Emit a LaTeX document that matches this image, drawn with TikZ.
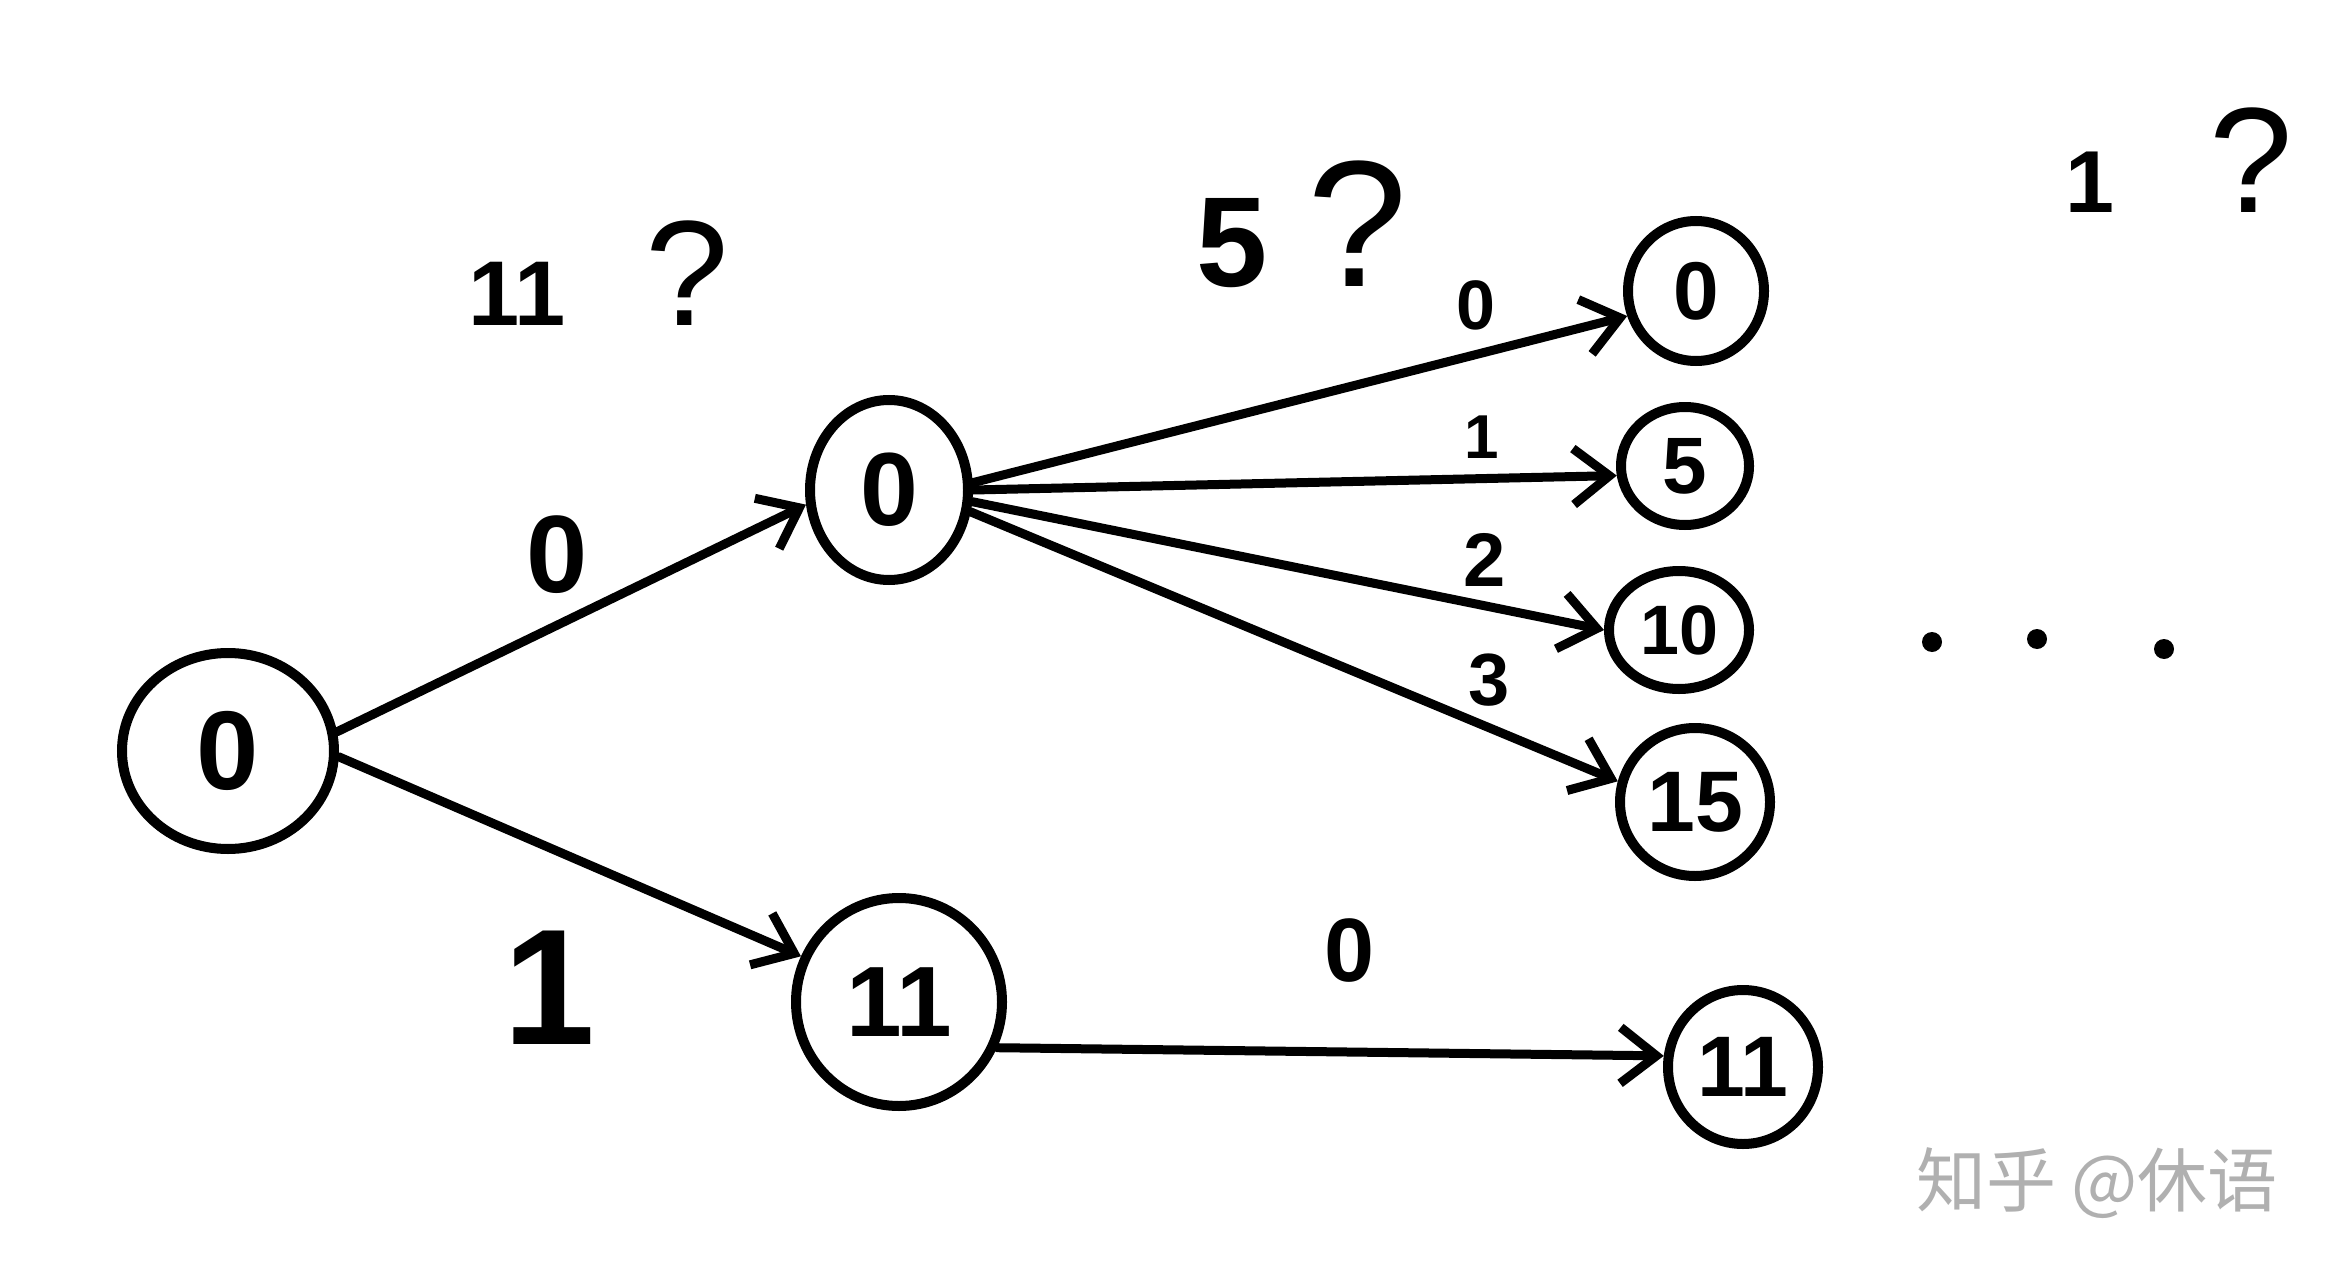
\documentclass[tikz,border=0pt]{standalone}
\usepackage{fontspec}
\setmainfont{Liberation Sans}
\newfontfamily\cjk{Noto Sans CJK SC}
\usetikzlibrary{shapes.geometric,arrows.meta}

\newcommand{\fs}[1]{\fontsize{#1}{#1}\selectfont\bfseries}

\tikzset{
  vtx/.style={draw, ellipse, line width=10pt, inner sep=0pt},
  edge/.style={line width=9pt, line cap=round, -{Straight Barb[length=36pt,width=56pt,line width=9pt]}},
  lbl/.style={inner sep=0pt, anchor=center},
}

\begin{document}
\begin{tikzpicture}[x=1pt,y=1pt,yscale=-1,xscale=1]
\path [fill=white] (0,0) rectangle (2340,1276);
\useasboundingbox (0,0) rectangle (2340,1276);

%Ellipses
\draw (228,751) node [vtx, minimum width=212pt, minimum height=196pt, font=\fs{112}] (root) {0};
\draw (889,490) node [vtx, minimum width=158pt, minimum height=180pt, font=\fs{104}] (m0) {0};
\draw (899,1002) node [vtx, minimum width=206pt, minimum height=208pt, font=\fs{100}] (m11) {11};
\draw (1696,291) node [vtx, minimum width=136pt, minimum height=140pt, font=\fs{82}] (a0) {0};
\draw (1685,466) node [vtx, minimum width=128pt, minimum height=118pt, font=\fs{80}] (a5) {5};
\draw (1679,630) node [vtx, minimum width=140pt, minimum height=118pt, font=\fs{70}] (a10) {10};
\draw (1695,802) node [vtx, minimum width=150pt, minimum height=148pt, font=\fs{86}] (a15) {15};
\draw (1743,1067) node [vtx, minimum width=150pt, minimum height=154pt, font=\fs{86}] (b11) {11};

%Straight Lines
\draw [edge] (root.10) -- (m0.190) ;
\draw [edge] (root.-3) -- (m11.155) ;
\draw [edge] (m0.5) -- (a0.200) ;
\draw [edge] (m0.0) -- (a5.188) ;
\draw [edge] (m0.-8) -- (a10.180) ;
\draw [edge] (m0.-15) -- (a15.165) ;
\draw [edge] (m11.-25) -- (b11.172) ;

% Text Node
\draw (599,273) node [lbl, font=\fs{92}] (q11) {11\hspace{80pt}{\fs{150}\mdseries ?}};
% Text Node
\draw (1302,224) node [lbl, font=\fs{128}] (q5) {5\hspace{40pt}{\fs{180}\mdseries ?}};
% Text Node
\draw (2179,160) node [lbl, font=\fs{88}] (q1) {1\hspace{95pt}{\fs{150}\mdseries ?}};

% Text Node
\draw (557,555) node [lbl, font=\fs{110}] (e0) {0};
% Text Node
\draw (549,988) node [lbl, font=\fs{165}] (e1) {1};
% Text Node
\draw (1350,951) node [lbl, font=\fs{90}] (f0) {0};
% Text Node
\draw (1476,305) node [lbl, font=\fs{70}] (g0) {0};
% Text Node
\draw (1482,437) node [lbl, font=\fs{62}] (g1) {1};
% Text Node
\draw (1485,560) node [lbl, font=\fs{76}] (g2) {2};
% Text Node
\draw (1489,680) node [lbl, font=\fs{74}] (g3) {3};

%Dots
\fill (1932,642) circle (10) ;
\fill (2037,639) circle (10) ;
\fill (2164,649) circle (10) ;

% Text Node
\draw (2097,1183) node [lbl, color={rgb, 255:red, 176; green, 176; blue, 176 }, font=\cjk\fontsize{70}{70}\selectfont] (wm) {知乎 @休语};

\end{tikzpicture}
\end{document}
